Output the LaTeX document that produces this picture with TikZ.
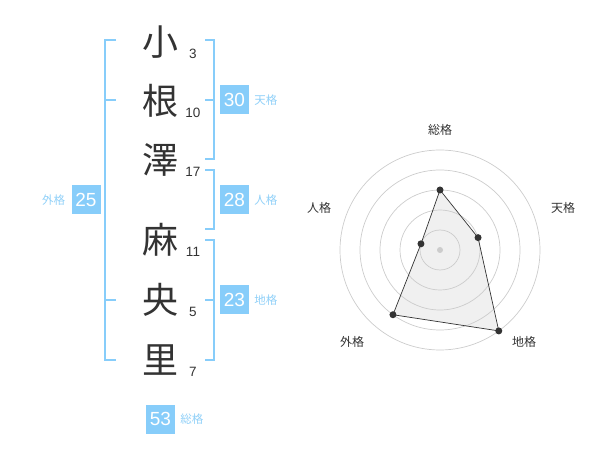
\documentclass[tikz,border=0pt]{standalone}
\usepackage{fontspec}
\setmainfont{Liberation Sans}
\newfontfamily\jpfont{Noto Sans CJK JP}
\usetikzlibrary{positioning}
\definecolor{skyline}{HTML}{87CDFA}
\definecolor{skylabel}{HTML}{90D0F8}
\definecolor{inkgray}{HTML}{333333}
\definecolor{ringgray}{HTML}{CCCCCC}
\definecolor{areagray}{HTML}{F0F0F0}
\begin{document}
\begin{tikzpicture}
	[x=1pt,y=-1pt,
	kanji/.style={font=\jpfont\fontsize{36}{36}\selectfont,text=inkgray,inner sep=0pt},
	stroke/.style={font=\fontsize{13.5}{14}\selectfont,text=inkgray,inner sep=0pt},
	kakubox/.style={fill=skyline,text=white,font=\fontsize{19}{19}\selectfont,minimum width=29pt,minimum height=29pt,inner sep=0pt},
	kakulabel/.style={font=\jpfont\fontsize{11.5}{12}\selectfont,text=skylabel,inner sep=0pt},
	bracket/.style={draw=skyline,line width=2pt},
	ring/.style={draw=ringgray,line width=0.7pt},
	axislabel/.style={font=\jpfont\fontsize{12}{12}\selectfont,text=inkgray,inner sep=0pt},
	dot/.style={circle,fill=inkgray,inner sep=0pt,minimum size=7pt}]
	\useasboundingbox (0,0) rectangle (600,470);
	% name and stroke counts
	\foreach \ch/\yy/\num [count=\i] in {小/42/3,根/101/10,澤/160/17,麻/240/11,央/300/5,里/360/7}
	{
		\node[kanji] (k\i) at (160,\yy) {\ch};
		\node[stroke,anchor=base] (n\i) at (193,\yy+17) {\num};
	}
	% brackets
	\draw[bracket] (116,40) -- (105,40) -- (105,360) -- (116,360);
	\draw[bracket] (105,100) -- (116,100);
	\draw[bracket] (105,300) -- (116,300);
	\draw[bracket] (205,40) -- (214,40) -- (214,159) -- (205,159);
	\draw[bracket] (205,100) -- (214,100);
	\draw[bracket] (205,170) -- (214,170) -- (214,229) -- (205,229);
	\draw[bracket] (205,240) -- (214,240) -- (214,360) -- (205,360);
	\draw[bracket] (205,300) -- (214,300);
	% boxes
	\node[kakubox] (ten) at (234.5,100) {30};
	\node[kakulabel,right=5pt of ten] (tenlabel) {天格};
	\node[kakubox] (jin) at (234.5,200) {28};
	\node[kakulabel,right=5pt of jin] (jinlabel) {人格};
	\node[kakubox] (chi) at (234.5,300) {23};
	\node[kakulabel,right=5pt of chi] (chilabel) {地格};
	\node[kakubox] (gai) at (86,200) {25};
	\node[kakulabel,left=6pt of gai] (gailabel) {外格};
	\node[kakubox] (sou) at (160.5,419) {53};
	\node[kakulabel,right=5pt of sou] (soulabel) {総格};
	% radar chart
	\begin{scope}[shift={(440,250)},y=1pt]
		\foreach \ang/\val/\nm/\txt/\lx/\ly in {90/3/rsou/総格/0/120,18/2/rten/天格/123/42,-54/5/rchi/地格/84/-92,-126/4/rgai/外格/-88/-92,162/1/rjin/人格/-121/42}
		{
			\coordinate (\nm) at (\ang:\val*20);
			\node[axislabel] (\nm label) at (\lx,\ly) {\txt};
		}
		\fill[areagray] (rsou) -- (rten) -- (rchi) -- (rgai) -- (rjin) -- cycle;
		\foreach \r in {20,40,...,100}
			\draw[ring] (0,0) circle (\r);
		\node[circle,fill=ringgray,inner sep=0pt,minimum size=6pt] (center) at (0,0) {};
		\draw[inkgray,line width=0.7pt] (rsou) -- (rten) -- (rchi) -- (rgai) -- (rjin) -- cycle;
		\foreach \nm in {rsou,rten,rchi,rgai,rjin}
			\node[dot] at (\nm) {};
	\end{scope}
\end{tikzpicture}
\end{document}
